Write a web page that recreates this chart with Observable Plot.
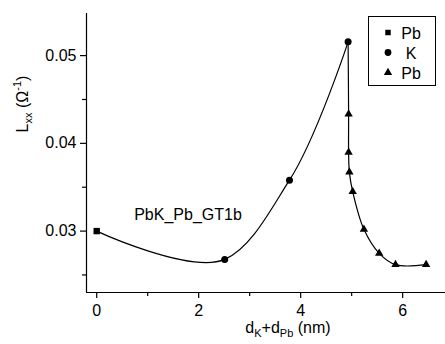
<!DOCTYPE html>
<html>
<head>
<meta charset="utf-8">
<script src="https://cdn.jsdelivr.net/npm/d3@7"></script>
<script src="https://cdn.jsdelivr.net/npm/@observablehq/plot@0.6"></script>
<style>
  html, body { margin: 0; padding: 0; background: #fff; }
  #chart { width: 445px; height: 344px; }
</style>
</head>
<body>
<div id="chart"></div>
<script>
// ---- data ----
const pbFirstX = [0];
const pbFirstY = [0.0300];
const kX = [2.51, 3.78, 4.93];
const kY = [0.02677, 0.0358, 0.05157];
const pbSecondX = [4.94, 4.94, 4.955, 5.02, 5.24, 5.54, 5.86, 6.46];
const pbSecondY = [0.04334, 0.03897, 0.03672, 0.0345, 0.0302, 0.02746, 0.02617, 0.02617];
const seriesNames = ["Pb", "K", "Pb"];
const xMajorTicks = [0, 2, 4, 6];
const xMinorTicks = [1, 3, 5];
const yMajorTicks = [0.03, 0.04, 0.05];
const yMinorTicks = [0.025, 0.035, 0.045];
const annotationText = ["PbK_Pb_GT1b"];
const annotationX = [1.79];
const annotationY = [0.0318];

const xDomain = [-0.2, 6.84];
const yDomain = [0.023, 0.0548];

const pts = [];
pbFirstX.forEach((x, i) => pts.push({x, y: pbFirstY[i], s: "sq"}));
kX.forEach((x, i) => pts.push({x, y: kY[i], s: "ci"}));
pbSecondX.forEach((x, i) => pts.push({x, y: pbSecondY[i], s: "tr"}));

// curve segments: deposition of K (Pb start + K points), then Pb (from K peak + triangles)
const seg1 = pts.filter(d => d.s !== "tr");
const seg2 = [pts.filter(d => d.s === "ci").slice(-1)[0], ...pts.filter(d => d.s === "tr")];

const font = "'Liberation Sans', Arial, sans-serif";

const svg = Plot.plot({
  width: 445,
  height: 344,
  marginLeft: 86,
  marginRight: 0,
  marginTop: 13,
  marginBottom: 52,
  style: {fontFamily: font, fontSize: "16px", background: "#fff", color: "#000"},
  x: {domain: xDomain},
  y: {domain: yDomain},
  marks: [
    Plot.ruleX([xDomain[0]], {stroke: "#000", strokeWidth: 1.2}),
    Plot.ruleY([yDomain[0]], {stroke: "#000", strokeWidth: 1.2}),
    Plot.axisY({ticks: yMajorTicks, tickSize: 6, tickPadding: 4, fontSize: 16, label: null, tickFormat: d3.format(".2f"), strokeWidth: 1.2}),
    Plot.axisY({ticks: yMinorTicks, tickSize: 4, label: null, tickFormat: () => "", strokeWidth: 1.2}),
    Plot.axisX({ticks: xMajorTicks, tickSize: 6, tickPadding: 6, fontSize: 16, label: null, tickFormat: d3.format("d"), strokeWidth: 1.2}),
    Plot.axisX({ticks: xMinorTicks, tickSize: 4, label: null, tickFormat: () => "", strokeWidth: 1.2}),
    Plot.line(seg1, {x: "x", y: "y", curve: "catmull-rom", tension: 1, stroke: "#000", strokeWidth: 1.2}),
    Plot.line(seg2, {x: "x", y: "y", curve: "catmull-rom", stroke: "#000", strokeWidth: 1.2}),
    Plot.dot(pts.filter(d => d.s === "sq"), {x: "x", y: "y", symbol: "square", r: 3.6, fill: "#000"}),
    Plot.dot(pts.filter(d => d.s === "ci"), {x: "x", y: "y", symbol: "circle", r: 3.5, fill: "#000"}),
    Plot.dot(pts.filter(d => d.s === "tr"), {x: "x", y: "y", symbol: "triangle", r: 3.1, fill: "#000"}),
    Plot.text(annotationText, {x: (d, i) => annotationX[i], y: (d, i) => annotationY[i], text: d => d, fontSize: 16, fill: "#000"})
  ]
});
document.getElementById("chart").appendChild(svg);

const s = d3.select(svg);
// y-axis label
const yl = s.append("text")
  .attr("transform", "translate(28,104) rotate(-90)")
  .attr("text-anchor", "middle")
  .attr("font-family", font).attr("font-size", 16).attr("fill", "#000");
yl.append("tspan").text("L");
yl.append("tspan").attr("dy", 4).attr("font-size", 11).text("xx");
yl.append("tspan").attr("dy", -4).text(" (Ω");
yl.append("tspan").attr("dy", -7).attr("font-size", 11).text("-1");
yl.append("tspan").attr("dy", 7).text(")");

// x-axis label
const xl = s.append("text")
  .attr("x", 288).attr("y", 333)
  .attr("text-anchor", "middle")
  .attr("font-family", font).attr("font-size", 16).attr("fill", "#000");
xl.append("tspan").text("d");
xl.append("tspan").attr("dy", 4).attr("font-size", 11).text("K");
xl.append("tspan").attr("dy", -4).text("+d");
xl.append("tspan").attr("dy", 4).attr("font-size", 11).text("Pb");
xl.append("tspan").attr("dy", -4).text(" (nm)");

// legend
const lg = s.append("g").attr("font-family", font).attr("font-size", 16);
lg.append("rect").attr("x", 368.5).attr("y", 16.5).attr("width", 67).attr("height", 69)
  .attr("fill", "#fff").attr("stroke", "#000").attr("stroke-width", 1);
const legSyms = [d3.symbolSquare, d3.symbolCircle, d3.symbolTriangle];
const legSizes = [30, 36, 30];
seriesNames.forEach((name, i) => {
  const cy = 32.5 + i * 20;
  lg.append("path").attr("d", d3.symbol(legSyms[i], legSizes[i])()).attr("transform", `translate(388,${cy})`).attr("fill", "#000");
  lg.append("text").attr("x", 411).attr("y", cy + 6).attr("fill", "#000").text(name);
});
</script>
</body>
</html>
